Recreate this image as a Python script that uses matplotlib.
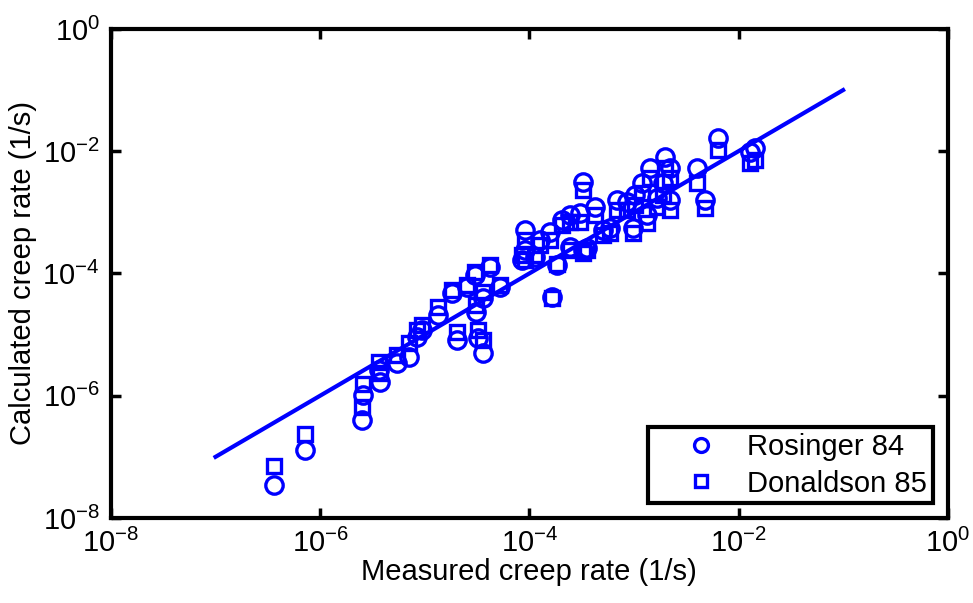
import matplotlib
matplotlib.use("Agg")
import matplotlib.pyplot as plt
from matplotlib.ticker import FixedLocator, NullLocator

plt.rcParams['font.family'] = ['Liberation Sans', 'DejaVu Sans']
plt.rcParams['mathtext.fontset'] = 'custom'
plt.rcParams['mathtext.rm'] = 'Liberation Sans'
plt.rcParams['mathtext.it'] = 'Liberation Sans'
plt.rcParams['mathtext.default'] = 'regular'

# measured creep rate (1/s), same for both data sets
measured = [3.61e-7, 7.16e-7, 2.51e-6, 2.56e-6, 3.73e-6, 3.65e-6, 5.42e-6, 7.06e-6,
            8.41e-6, 9.4e-6, 1.34e-5, 1.82e-5, 2.03e-5, 2.53e-5, 3.02e-5, 4.20e-5,
            3.08e-5, 3.6e-5, 3.6e-5, 3.23e-5, 5.24e-5, 8.49e-5, 9.08e-5, 9.1e-5,
            1.13e-4, 1.57e-4, 1.84e-4, 1.64e-4, 2.05e-4, 2.44e-4, 3.05e-4, 3.25e-4,
            4.24e-4, 2.44e-4, 3.25e-4, 5.06e-4, 5.9e-4, 6.87e-4, 8.57e-4, 9.77e-4,
            1.02e-3, 1.19e-3, 1.33e-3, 1.42e-3, 1.66e-3, 1.98e-3, 2.21e-3, 1.89e-3,
            2.21e-3, 4.0e-3, 4.78e-3, 6.35e-3, 1.29e-2, 1.44e-2, 1.26e-4, 3.56e-4]

# calculated creep rate (1/s)
rosinger = [3.44e-8, 1.29e-7, 3.99e-7, 1.02e-6, 1.67e-6, 2.62e-6, 3.42e-6, 4.28e-6,
            9.1e-6, 1.19e-5, 2.08e-5, 4.78e-5, 8.13e-6, 5.99e-5, 9.4e-5, 1.27e-4,
            2.33e-5, 3.96e-5, 4.98e-6, 8.77e-6, 5.99e-5, 1.66e-4, 5.13e-4, 2.42e-4,
            1.85e-4, 4.76e-4, 1.37e-4, 4.11e-5, 7.48e-4, 9.03e-4, 9.74e-4, 3.13e-3,
            1.22e-3, 2.7e-4, 2.42e-4, 5.13e-4, 5.53e-4, 1.59e-3, 1.47e-3, 5.53e-4,
            1.92e-3, 3.02e-3, 9.03e-4, 5.31e-3, 1.71e-3, 8.04e-3, 5.31e-3, 3.02e-3,
            1.59e-3, 5.31e-3, 1.59e-3, 1.64e-2, 9.7e-3, 1.13e-2, 3.52e-4, 2.61e-4]

donaldson = [7.05e-8, 2.35e-7, 6.5e-7, 1.55e-6, 2.34e-6, 3.55e-6, 4.62e-6, 7.26e-6,
             1.19e-5, 1.43e-5, 2.82e-5, 5.35e-5, 1.10e-5, 6.46e-5, 1.05e-4, 1.37e-4,
             3.04e-5, 4.96e-5, 8.13e-6, 1.19e-5, 6.46e-5, 2.0e-4, 3.52e-4, 1.66e-4,
             2.0e-4, 3.52e-4, 1.42e-4, 4.0e-5, 6.2e-4, 6.94e-4, 6.94e-4, 2.32e-3,
             9.03e-4, 2.42e-4, 2.16e-4, 4.25e-4, 4.58e-4, 1.09e-3, 1.09e-3, 4.58e-4,
             1.32e-3, 2.07e-3, 6.68e-4, 3.64e-3, 1.22e-3, 5.31e-3, 3.64e-3, 1.92e-3,
             1.09e-3, 3.02e-3, 1.18e-3, 1.05e-2, 6.41e-3, 7.18e-3, 2.92e-4, 2.42e-4]

# 1:1 line
ref_line = [1e-7, 1e-1]
decades = [1e-8, 1e-6, 1e-4, 1e-2, 1e0]

blue = (0, 0, 1)

fig = plt.figure(figsize=(9.73, 6.03), dpi=100)
ax = fig.add_axes([0.114, 0.141, 0.86, 0.811])

ax.plot(measured, rosinger, 'o', ms=12.5, mfc='none', mec=blue, mew=2.4,
        label='Rosinger 84', zorder=3)
ax.plot(measured, donaldson, 's', ms=10.5, mfc='none', mec=blue, mew=2.4,
        label='Donaldson 85', zorder=3)
ax.plot(ref_line, ref_line, '-', color=blue, lw=3, zorder=2)

ax.set_xscale('log')
ax.set_yscale('log')
ax.set_xlim(1e-8, 1e0)
ax.set_ylim(1e-8, 1e0)
ax.xaxis.set_major_locator(FixedLocator(decades))
ax.yaxis.set_major_locator(FixedLocator(decades))
ax.xaxis.set_minor_locator(NullLocator())
ax.yaxis.set_minor_locator(NullLocator())

for sp in ax.spines.values():
    sp.set_linewidth(3)
ax.tick_params(which='major', direction='in', length=7, width=2.5,
               top=True, right=True, labelsize=21, pad=8)

ax.set_xlabel('Measured creep rate (1/s)', fontsize=21, labelpad=0)
ax.set_ylabel('Calculated creep rate (1/s)', fontsize=21, labelpad=4)

leg = ax.legend(loc='lower right', fontsize=21, frameon=True, fancybox=False,
                framealpha=1, edgecolor='black', borderpad=0.2,
                handletextpad=0.0, borderaxespad=0.5, handlelength=3.2,
                labelspacing=0.3, markerscale=0.8)
leg.get_frame().set_linewidth(3)

fig.savefig('out.png', dpi=100)
